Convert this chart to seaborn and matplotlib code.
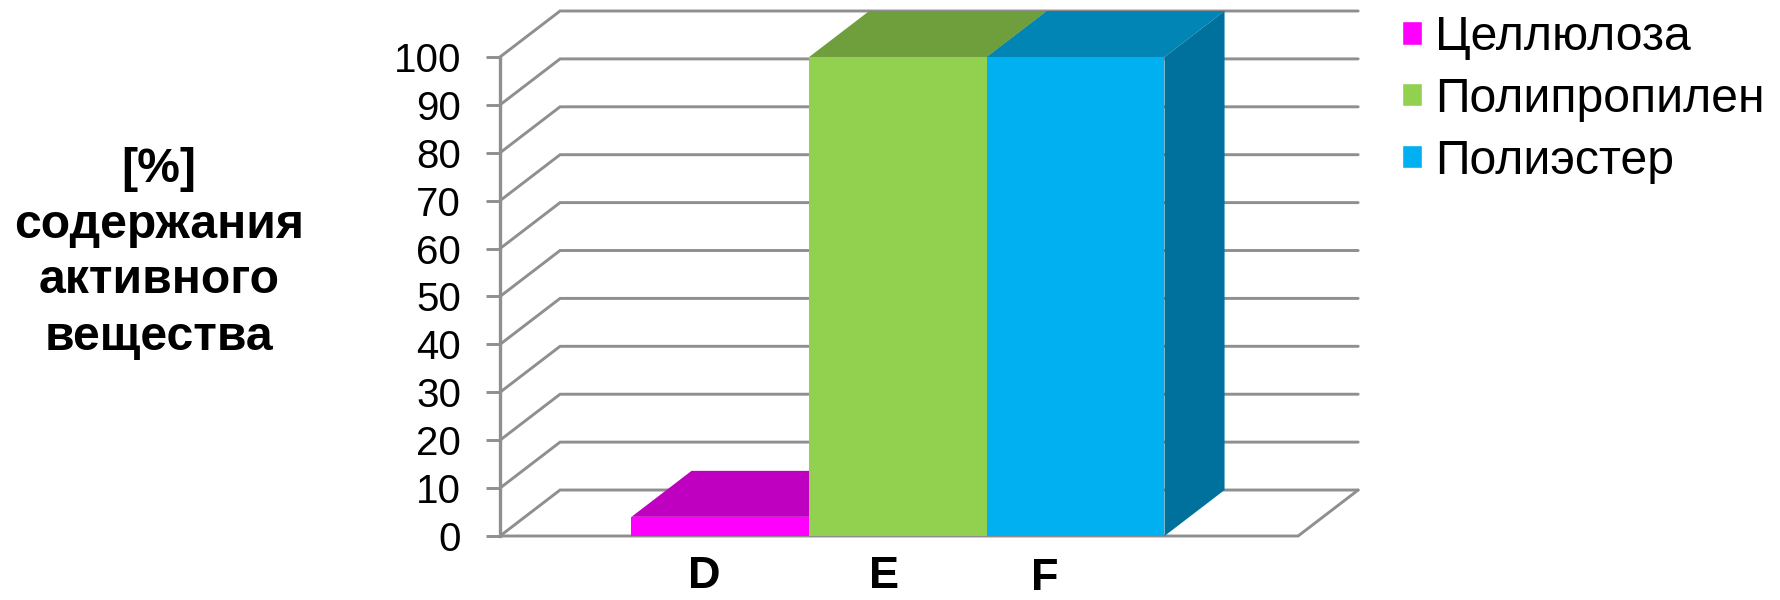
import matplotlib
matplotlib.use("Agg")
import matplotlib.pyplot as plt
import pandas as pd
import seaborn as sns

samples = ["D", "E", "F"]
materials = ["Целлюлоза", "Полипропилен", "Полиэстер"]
content = [4, 100, 100]
y_ticks = list(range(0, 101, 10))

front_colors = ["#ff00ff", "#92d050", "#00b0f0"]
top_colors = ["#c000c0", "#6f9e3c", "#0085b5"]
side_colors = ["#c000c0", "#6f9e3c", "#00709c"]
wall_color = "#8f8f8f"

W, H = 1781, 600
# Oblique projection offsets of the chart box, in data units
DEPTH_X = 0.338
DEPTH_Y = 9.6
FLOOR_END = 3.252

sns.set_theme(style="white")
plt.rcParams["font.family"] = ["Liberation Sans", "DejaVu Sans"]

fig = plt.figure(figsize=(W / 100, H / 100), dpi=100)
ax = fig.add_axes([500 / W, 1 - 536 / H, 861 / W, 525 / H])

df = pd.DataFrame({"sample": samples, "material": materials, "content": content})
sns.barplot(data=df, x="sample", y="content", hue="material", hue_order=materials,
            palette=front_colors, width=1, dodge=False, saturation=1, ax=ax)

ax.set_xlim(-1.24, 3.606)
ax.set_ylim(0, 109.6)
ax.set_xlabel("")
ax.set_ylabel("")

# Back wall and left wall gridlines
x0 = ax.get_xlim()[0]
for v in y_ticks:
    ax.plot([x0, x0 + DEPTH_X, FLOOR_END + DEPTH_X], [v, v + DEPTH_Y, v + DEPTH_Y],
            color=wall_color, lw=2.1, zorder=1, clip_on=False, solid_joinstyle="miter")
ax.plot([x0, FLOOR_END, FLOOR_END + DEPTH_X], [0, 0, DEPTH_Y],
        color=wall_color, lw=2.1, zorder=1, clip_on=False)

# Extruded top and side faces for each bar, stacked left to right
bars = [p for p in ax.patches if p.get_height() > 0]
bars.sort(key=lambda p: p.get_x())
for i, bar in enumerate(bars):
    left, right, h = bar.get_x(), bar.get_x() + bar.get_width(), bar.get_height()
    ax.fill([left, right, right + DEPTH_X, left + DEPTH_X],
            [h, h, h + DEPTH_Y, h + DEPTH_Y],
            color=top_colors[i], lw=0, zorder=3 + 2 * i, clip_on=False)
    ax.fill([right, right + DEPTH_X, right + DEPTH_X, right],
            [0, DEPTH_Y, h + DEPTH_Y, h],
            color=side_colors[i], lw=0, zorder=3 + 2 * i, clip_on=False)
    bar.set_zorder(4 + 2 * i)
    bar.set_linewidth(0)

for side in ("top", "right", "bottom"):
    ax.spines[side].set_visible(False)
ax.spines["left"].set_color(wall_color)
ax.spines["left"].set_linewidth(2.4)
ax.spines["left"].set_bounds(0, 100)

ax.set_xticks([])
ax.set_yticks(y_ticks)
ax.tick_params(axis="y", length=10, width=2.1, color=wall_color, pad=18,
               labelsize=29, labelcolor="black", left=True)

handles, labels = ax.get_legend_handles_labels()
ax.legend(handles, labels, loc="upper left", bbox_to_anchor=(1402 / W, 1 - 15 / H),
          bbox_transform=fig.transFigure, frameon=False, fontsize=34.7,
          labelcolor="black", handlelength=0.42, handleheight=0.38, handletextpad=0.27,
          labelspacing=0.35, borderaxespad=0, borderpad=0)

# Axis title and sample labels
for line, y in zip(["[%]", "содержания", "активного", "вещества"], [170, 225, 281, 337]):
    fig.text(159 / W, 1 - y / H, line, ha="center", va="center",
             fontsize=34.7, fontweight="bold", color="black")
for name, x, y in zip(samples, [704, 884, 1045], [588, 588, 590]):
    fig.text(x / W, 1 - y / H, name, ha="center", va="baseline",
             fontsize=32.5, fontweight="bold", color="black")

fig.savefig("out.png", dpi=100)
